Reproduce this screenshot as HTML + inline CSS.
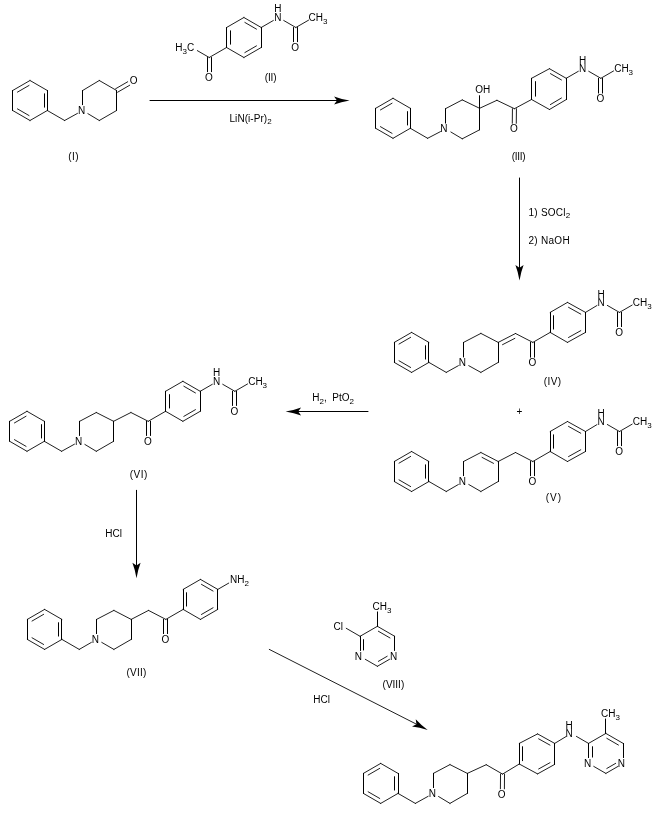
<!DOCTYPE html>
<html lang="en">
<head>
<meta charset="utf-8">
<title>Reaction scheme</title>
<style>
html,body{margin:0;padding:0;background:#fff;}
body{width:656px;height:814px;overflow:hidden;}
svg{display:block;will-change:transform;}
.d{stroke-width:0.88;}
</style>
</head>
<body>
<svg width="656" height="814" viewBox="0 0 656 814">
<g fill="none" stroke="#000" stroke-width="1" stroke-linecap="round">
<line class="d" x1="30" y1="80.5" x2="47.32" y2="90.5"/>
<line x1="47.5" y1="90.5" x2="47.5" y2="110.5"/>
<line x1="44.5" y1="93.8" x2="44.5" y2="107.2"/>
<line class="d" x1="47.32" y1="110.5" x2="30" y2="120.5"/>
<line class="d" x1="30" y1="120.5" x2="12.68" y2="110.5"/>
<line class="d" x1="29.04" y1="115.56" x2="17.44" y2="108.86"/>
<line x1="12.5" y1="110.5" x2="12.5" y2="90.5"/>
<line class="d" x1="12.68" y1="90.5" x2="30" y2="80.5"/>
<line class="d" x1="17.44" y1="92.14" x2="29.04" y2="85.44"/>
<line class="d" x1="47.32" y1="110.5" x2="64.64" y2="120.5"/>
<line class="d" x1="64.64" y1="120.5" x2="77.46" y2="113.39"/>
<line x1="82.5" y1="104.7" x2="82.5" y2="90.5"/>
<line class="d" x1="82.66" y1="90.5" x2="99.28" y2="80.5"/>
<line class="d" x1="99.28" y1="80.5" x2="116.6" y2="90.5"/>
<line x1="116.5" y1="90.5" x2="116.5" y2="110.5"/>
<line class="d" x1="116.6" y1="110.5" x2="99.28" y2="120.5"/>
<line class="d" x1="99.28" y1="120.5" x2="87.86" y2="113.63"/>
<line class="d" x1="117.6" y1="92.23" x2="129.72" y2="85.23"/>
<line class="d" x1="115.6" y1="88.77" x2="127.72" y2="81.77"/>
<line class="d" x1="243.9" y1="17.5" x2="261.22" y2="27.5"/>
<line class="d" x1="244.86" y1="22.44" x2="256.46" y2="29.14"/>
<line x1="261.5" y1="27.5" x2="261.5" y2="47.5"/>
<line class="d" x1="261.22" y1="47.5" x2="243.9" y2="57.5"/>
<line class="d" x1="256.46" y1="45.86" x2="244.86" y2="52.56"/>
<line class="d" x1="243.9" y1="57.5" x2="226.58" y2="47.5"/>
<line x1="226.5" y1="47.5" x2="226.5" y2="27.5"/>
<line x1="230.5" y1="44.2" x2="230.5" y2="30.8"/>
<line class="d" x1="226.58" y1="27.5" x2="243.9" y2="17.5"/>
<line class="d" x1="226.58" y1="47.5" x2="209.26" y2="57.5"/>
<line class="d" x1="209.26" y1="57.5" x2="197.34" y2="50.62"/>
<line x1="207.5" y1="57.5" x2="207.5" y2="71.7"/>
<line x1="211.5" y1="57.5" x2="211.5" y2="71.7"/>
<line class="d" x1="261.22" y1="27.5" x2="273.34" y2="20.5"/>
<line class="d" x1="283.74" y1="20.5" x2="295.86" y2="27.5"/>
<line class="d" x1="295.86" y1="27.5" x2="308.58" y2="20.16"/>
<line x1="293.5" y1="27.5" x2="293.5" y2="41.7"/>
<line x1="297.5" y1="27.5" x2="297.5" y2="41.7"/>
<line class="d" x1="393" y1="98.3" x2="410.32" y2="108.3"/>
<line x1="410.5" y1="108.3" x2="410.5" y2="128.3"/>
<line x1="407.5" y1="111.6" x2="407.5" y2="125"/>
<line class="d" x1="410.32" y1="128.3" x2="393" y2="138.3"/>
<line class="d" x1="393" y1="138.3" x2="375.68" y2="128.3"/>
<line class="d" x1="392.04" y1="133.36" x2="380.44" y2="126.66"/>
<line x1="375.5" y1="128.3" x2="375.5" y2="108.3"/>
<line class="d" x1="375.68" y1="108.3" x2="393" y2="98.3"/>
<line class="d" x1="380.44" y1="109.94" x2="392.04" y2="103.24"/>
<line class="d" x1="410.32" y1="128.3" x2="427.64" y2="138.3"/>
<line class="d" x1="427.64" y1="138.3" x2="440.46" y2="131.61"/>
<line x1="445.5" y1="123.1" x2="445.5" y2="108.6"/>
<line class="d" x1="445.66" y1="108.6" x2="462.28" y2="99.9"/>
<line class="d" x1="462.28" y1="99.9" x2="479.6" y2="108.3"/>
<line x1="479.5" y1="108.3" x2="479.5" y2="129.8"/>
<line class="d" x1="479.6" y1="129.8" x2="462.28" y2="138.8"/>
<line class="d" x1="462.28" y1="138.8" x2="450.86" y2="132"/>
<line x1="479.5" y1="108.3" x2="479.5" y2="95.7"/>
<line class="d" x1="479.6" y1="108.3" x2="496.92" y2="100.3"/>
<line class="d" x1="496.92" y1="100.3" x2="514.44" y2="108.7"/>
<line class="d" x1="514.44" y1="108.7" x2="531.56" y2="99.5"/>
<line class="d" x1="512.44" y1="108.68" x2="512.3" y2="123.28"/>
<line class="d" x1="516.44" y1="108.72" x2="516.3" y2="123.32"/>
<line class="d" x1="549.48" y1="68.7" x2="566.2" y2="78.3"/>
<line class="d" x1="550.45" y1="73.64" x2="561.45" y2="79.95"/>
<line x1="566.5" y1="78.3" x2="566.5" y2="99.6"/>
<line class="d" x1="566.2" y1="99.6" x2="549.48" y2="109.5"/>
<line class="d" x1="561.43" y1="98.01" x2="550.39" y2="104.55"/>
<line class="d" x1="549.48" y1="109.5" x2="531.56" y2="99.5"/>
<line x1="531.5" y1="99.5" x2="531.5" y2="78.3"/>
<line x1="535.5" y1="96.2" x2="535.5" y2="81.6"/>
<line class="d" x1="531.56" y1="78.3" x2="549.48" y2="68.7"/>
<line class="d" x1="566.2" y1="78.3" x2="578.33" y2="71.3"/>
<line class="d" x1="588.73" y1="71.3" x2="600.85" y2="78.3"/>
<line class="d" x1="600.85" y1="78.3" x2="613.57" y2="70.96"/>
<line x1="598.5" y1="78.3" x2="598.5" y2="93.1"/>
<line x1="602.5" y1="78.3" x2="602.5" y2="93.1"/>
<line class="d" x1="411.6" y1="332.4" x2="428.92" y2="342.4"/>
<line x1="428.5" y1="342.4" x2="428.5" y2="362.4"/>
<line x1="425.5" y1="345.7" x2="425.5" y2="359.1"/>
<line class="d" x1="428.92" y1="362.4" x2="411.6" y2="372.4"/>
<line class="d" x1="411.6" y1="372.4" x2="394.28" y2="362.4"/>
<line class="d" x1="410.64" y1="367.46" x2="399.04" y2="360.76"/>
<line x1="394.5" y1="362.4" x2="394.5" y2="342.4"/>
<line class="d" x1="394.28" y1="342.4" x2="411.6" y2="332.4"/>
<line class="d" x1="399.04" y1="344.04" x2="410.64" y2="337.34"/>
<line class="d" x1="428.92" y1="362.4" x2="446.24" y2="372.4"/>
<line class="d" x1="446.24" y1="372.4" x2="458.36" y2="365.68"/>
<line x1="463.5" y1="357" x2="463.5" y2="342.4"/>
<line class="d" x1="463.56" y1="342.4" x2="480.88" y2="333.4"/>
<line class="d" x1="480.88" y1="333.4" x2="498.2" y2="342.4"/>
<line x1="498.5" y1="342.4" x2="498.5" y2="362.4"/>
<line class="d" x1="498.2" y1="362.4" x2="480.88" y2="372.4"/>
<line class="d" x1="480.88" y1="372.4" x2="468.76" y2="365.68"/>
<line class="d" x1="498.2" y1="342.4" x2="515.52" y2="333.5"/>
<line class="d" x1="502.52" y1="344.68" x2="514.86" y2="338.34"/>
<line class="d" x1="515.52" y1="333.5" x2="532.84" y2="342.4"/>
<line class="d" x1="532.84" y1="342.4" x2="550.16" y2="332.4"/>
<line x1="530.5" y1="342.4" x2="530.5" y2="357.2"/>
<line x1="534.5" y1="342.4" x2="534.5" y2="357.2"/>
<line class="d" x1="567.48" y1="302.4" x2="585.51" y2="312.4"/>
<line class="d" x1="568.53" y1="307.32" x2="580.78" y2="314.12"/>
<line x1="585.5" y1="312.4" x2="585.5" y2="332.4"/>
<line class="d" x1="585.51" y1="332.4" x2="567.48" y2="342.4"/>
<line class="d" x1="580.78" y1="330.68" x2="568.53" y2="337.48"/>
<line class="d" x1="567.48" y1="342.4" x2="550.16" y2="332.4"/>
<line x1="550.5" y1="332.4" x2="550.5" y2="312.4"/>
<line x1="553.5" y1="329.1" x2="553.5" y2="315.7"/>
<line class="d" x1="550.16" y1="312.4" x2="567.48" y2="302.4"/>
<line class="d" x1="585.51" y1="312.4" x2="596.93" y2="305.53"/>
<line class="d" x1="607.33" y1="305.4" x2="619.45" y2="312.4"/>
<line class="d" x1="619.45" y1="312.4" x2="632.17" y2="305.06"/>
<line x1="617.5" y1="312.4" x2="617.5" y2="326.6"/>
<line x1="621.5" y1="312.4" x2="621.5" y2="326.6"/>
<line class="d" x1="411.6" y1="451.5" x2="428.92" y2="461.5"/>
<line x1="428.5" y1="461.5" x2="428.5" y2="481.5"/>
<line x1="425.5" y1="464.8" x2="425.5" y2="478.2"/>
<line class="d" x1="428.92" y1="481.5" x2="411.6" y2="491.5"/>
<line class="d" x1="411.6" y1="491.5" x2="394.28" y2="481.5"/>
<line class="d" x1="410.64" y1="486.56" x2="399.04" y2="479.86"/>
<line x1="394.5" y1="481.5" x2="394.5" y2="461.5"/>
<line class="d" x1="394.28" y1="461.5" x2="411.6" y2="451.5"/>
<line class="d" x1="399.04" y1="463.14" x2="410.64" y2="456.44"/>
<line class="d" x1="428.92" y1="481.5" x2="446.24" y2="491.5"/>
<line class="d" x1="446.24" y1="491.5" x2="458.36" y2="484.5"/>
<line x1="463.5" y1="475.7" x2="463.5" y2="461.5"/>
<line class="d" x1="463.56" y1="461.5" x2="480.88" y2="452.5"/>
<line class="d" x1="480.88" y1="452.5" x2="498.2" y2="461.5"/>
<line class="d" x1="482.06" y1="457.39" x2="493.52" y2="463.35"/>
<line x1="498.5" y1="461.5" x2="498.5" y2="481.5"/>
<line class="d" x1="498.2" y1="481.5" x2="480.88" y2="491.5"/>
<line class="d" x1="480.88" y1="491.5" x2="468.76" y2="484.5"/>
<line class="d" x1="498.2" y1="461.5" x2="515.52" y2="452.5"/>
<line class="d" x1="515.52" y1="452.5" x2="532.84" y2="461.5"/>
<line class="d" x1="532.84" y1="461.5" x2="550.16" y2="451.5"/>
<line x1="530.5" y1="461.5" x2="530.5" y2="475.7"/>
<line x1="534.5" y1="461.5" x2="534.5" y2="475.7"/>
<line class="d" x1="567.48" y1="421.5" x2="585.51" y2="431.5"/>
<line class="d" x1="568.53" y1="426.42" x2="580.78" y2="433.22"/>
<line x1="585.5" y1="431.5" x2="585.5" y2="451.5"/>
<line class="d" x1="585.51" y1="451.5" x2="567.48" y2="461.5"/>
<line class="d" x1="580.78" y1="449.78" x2="568.53" y2="456.58"/>
<line class="d" x1="567.48" y1="461.5" x2="550.16" y2="451.5"/>
<line x1="550.5" y1="451.5" x2="550.5" y2="431.5"/>
<line x1="553.5" y1="448.2" x2="553.5" y2="434.8"/>
<line class="d" x1="550.16" y1="431.5" x2="567.48" y2="421.5"/>
<line class="d" x1="585.51" y1="431.5" x2="596.93" y2="424.63"/>
<line class="d" x1="607.33" y1="424.5" x2="619.45" y2="431.5"/>
<line class="d" x1="619.45" y1="431.5" x2="632.17" y2="424.16"/>
<line x1="617.5" y1="431.5" x2="617.5" y2="445.7"/>
<line x1="621.5" y1="431.5" x2="621.5" y2="445.7"/>
<line class="d" x1="27" y1="411.3" x2="44.32" y2="421.3"/>
<line x1="44.5" y1="421.3" x2="44.5" y2="441.3"/>
<line x1="41.5" y1="424.6" x2="41.5" y2="438"/>
<line class="d" x1="44.32" y1="441.3" x2="27" y2="451.3"/>
<line class="d" x1="27" y1="451.3" x2="9.68" y2="441.3"/>
<line class="d" x1="26.04" y1="446.36" x2="14.44" y2="439.66"/>
<line x1="9.5" y1="441.3" x2="9.5" y2="421.3"/>
<line class="d" x1="9.68" y1="421.3" x2="27" y2="411.3"/>
<line class="d" x1="14.44" y1="422.94" x2="26.04" y2="416.24"/>
<line class="d" x1="44.32" y1="441.3" x2="61.64" y2="451.3"/>
<line class="d" x1="61.64" y1="451.3" x2="74.46" y2="444.19"/>
<line x1="79.5" y1="435.5" x2="79.5" y2="421.3"/>
<line class="d" x1="79.66" y1="421.3" x2="96.28" y2="412.5"/>
<line class="d" x1="96.28" y1="412.5" x2="113.6" y2="421.3"/>
<line x1="113.5" y1="421.3" x2="113.5" y2="441.3"/>
<line class="d" x1="113.6" y1="441.3" x2="96.28" y2="451.3"/>
<line class="d" x1="96.28" y1="451.3" x2="84.86" y2="444.43"/>
<line class="d" x1="113.6" y1="421.3" x2="130.92" y2="412.5"/>
<line class="d" x1="130.92" y1="412.5" x2="148.24" y2="421.3"/>
<line class="d" x1="148.24" y1="421.3" x2="165.56" y2="411.3"/>
<line x1="146.5" y1="421.3" x2="146.5" y2="435.5"/>
<line x1="150.5" y1="421.3" x2="150.5" y2="435.5"/>
<line class="d" x1="182.88" y1="381.3" x2="200.2" y2="391.3"/>
<line class="d" x1="183.84" y1="386.24" x2="195.45" y2="392.94"/>
<line x1="200.5" y1="391.3" x2="200.5" y2="411.3"/>
<line class="d" x1="200.2" y1="411.3" x2="182.88" y2="421.3"/>
<line class="d" x1="195.45" y1="409.66" x2="183.84" y2="416.36"/>
<line class="d" x1="182.88" y1="421.3" x2="165.56" y2="411.3"/>
<line x1="165.5" y1="411.3" x2="165.5" y2="391.3"/>
<line x1="169.5" y1="408" x2="169.5" y2="394.6"/>
<line class="d" x1="165.56" y1="391.3" x2="182.88" y2="381.3"/>
<line class="d" x1="200.2" y1="391.3" x2="212.33" y2="384.3"/>
<line class="d" x1="222.73" y1="384.3" x2="234.85" y2="391.3"/>
<line class="d" x1="234.85" y1="391.3" x2="247.57" y2="383.96"/>
<line x1="232.5" y1="391.3" x2="232.5" y2="405.5"/>
<line x1="236.5" y1="391.3" x2="236.5" y2="405.5"/>
<line class="d" x1="44.6" y1="609.4" x2="61.92" y2="619.4"/>
<line x1="61.5" y1="619.4" x2="61.5" y2="639.4"/>
<line x1="58.5" y1="622.7" x2="58.5" y2="636.1"/>
<line class="d" x1="61.92" y1="639.4" x2="44.6" y2="649.4"/>
<line class="d" x1="44.6" y1="649.4" x2="27.28" y2="639.4"/>
<line class="d" x1="43.64" y1="644.46" x2="32.04" y2="637.76"/>
<line x1="27.5" y1="639.4" x2="27.5" y2="619.4"/>
<line class="d" x1="27.28" y1="619.4" x2="44.6" y2="609.4"/>
<line class="d" x1="32.04" y1="621.04" x2="43.64" y2="614.34"/>
<line class="d" x1="61.92" y1="639.4" x2="79.24" y2="649.4"/>
<line class="d" x1="79.24" y1="649.4" x2="91.36" y2="642.4"/>
<line x1="96.5" y1="633.6" x2="96.5" y2="619.4"/>
<line class="d" x1="96.56" y1="619.4" x2="113.88" y2="610.4"/>
<line class="d" x1="113.88" y1="610.4" x2="131.2" y2="619.4"/>
<line x1="131.5" y1="619.4" x2="131.5" y2="639.4"/>
<line class="d" x1="131.2" y1="639.4" x2="113.88" y2="649.4"/>
<line class="d" x1="113.88" y1="649.4" x2="101.76" y2="642.4"/>
<line class="d" x1="131.2" y1="619.4" x2="148.52" y2="610.4"/>
<line class="d" x1="148.52" y1="610.4" x2="165.84" y2="619.4"/>
<line class="d" x1="165.84" y1="619.4" x2="183.16" y2="609.4"/>
<line x1="163.5" y1="619.4" x2="163.5" y2="633.6"/>
<line x1="167.5" y1="619.4" x2="167.5" y2="633.6"/>
<line class="d" x1="200.48" y1="579.4" x2="217.8" y2="589.4"/>
<line class="d" x1="201.44" y1="584.34" x2="213.05" y2="591.04"/>
<line x1="217.5" y1="589.4" x2="217.5" y2="609.4"/>
<line class="d" x1="217.8" y1="609.4" x2="200.48" y2="619.4"/>
<line class="d" x1="213.05" y1="607.76" x2="201.44" y2="614.46"/>
<line class="d" x1="200.48" y1="619.4" x2="183.16" y2="609.4"/>
<line x1="183.5" y1="609.4" x2="183.5" y2="589.4"/>
<line x1="186.5" y1="606.1" x2="186.5" y2="592.7"/>
<line class="d" x1="183.16" y1="589.4" x2="200.48" y2="579.4"/>
<line class="d" x1="217.8" y1="589.4" x2="228.73" y2="583.1"/>
<line class="d" x1="377.4" y1="626.3" x2="394.72" y2="636.3"/>
<line class="d" x1="378.36" y1="631.24" x2="389.96" y2="637.94"/>
<line x1="394.5" y1="636.3" x2="394.5" y2="650.5"/>
<line class="d" x1="389.52" y1="659.3" x2="377.4" y2="666.3"/>
<line class="d" x1="387.19" y1="656.26" x2="378.36" y2="661.36"/>
<line class="d" x1="377.4" y1="666.3" x2="365.28" y2="659.3"/>
<line x1="360.5" y1="650.5" x2="360.5" y2="636.3"/>
<line x1="363.5" y1="650" x2="363.5" y2="639.6"/>
<line class="d" x1="360.08" y1="636.3" x2="377.4" y2="626.3"/>
<line x1="377.5" y1="626.3" x2="377.5" y2="611.9"/>
<line class="d" x1="360.08" y1="636.3" x2="346.26" y2="628.32"/>
<line class="d" x1="380.7" y1="763.4" x2="398.02" y2="773.4"/>
<line x1="398.5" y1="773.4" x2="398.5" y2="793.4"/>
<line x1="394.5" y1="776.7" x2="394.5" y2="790.1"/>
<line class="d" x1="398.02" y1="793.4" x2="380.7" y2="803.4"/>
<line class="d" x1="380.7" y1="803.4" x2="363.38" y2="793.4"/>
<line class="d" x1="379.74" y1="798.46" x2="368.14" y2="791.76"/>
<line x1="363.5" y1="793.4" x2="363.5" y2="773.4"/>
<line class="d" x1="363.38" y1="773.4" x2="380.7" y2="763.4"/>
<line class="d" x1="368.14" y1="775.04" x2="379.74" y2="768.34"/>
<line class="d" x1="398.02" y1="793.4" x2="415.34" y2="803.4"/>
<line class="d" x1="415.34" y1="803.4" x2="428.16" y2="796.29"/>
<line x1="433.5" y1="787.6" x2="433.5" y2="773.4"/>
<line class="d" x1="433.36" y1="773.4" x2="449.98" y2="764.6"/>
<line class="d" x1="449.98" y1="764.6" x2="467.3" y2="773.4"/>
<line x1="467.5" y1="773.4" x2="467.5" y2="793.4"/>
<line class="d" x1="467.3" y1="793.4" x2="449.98" y2="803.4"/>
<line class="d" x1="449.98" y1="803.4" x2="438.56" y2="796.53"/>
<line class="d" x1="467.3" y1="773.4" x2="486.22" y2="764.7"/>
<line class="d" x1="486.22" y1="764.7" x2="502.54" y2="774.1"/>
<line class="d" x1="502.54" y1="774.1" x2="519.26" y2="764"/>
<line class="d" x1="500.54" y1="774.08" x2="500.4" y2="788.78"/>
<line class="d" x1="504.54" y1="774.12" x2="504.4" y2="788.82"/>
<line class="d" x1="537.58" y1="733.9" x2="554.7" y2="743.4"/>
<line class="d" x1="538.63" y1="738.82" x2="549.98" y2="745.12"/>
<line x1="554.5" y1="743.4" x2="554.5" y2="764.4"/>
<line class="d" x1="554.7" y1="764.4" x2="537.58" y2="773.9"/>
<line class="d" x1="549.98" y1="762.68" x2="538.63" y2="768.98"/>
<line class="d" x1="537.58" y1="773.9" x2="519.26" y2="764"/>
<line x1="519.5" y1="764" x2="519.5" y2="743.4"/>
<line x1="522.5" y1="760.7" x2="522.5" y2="746.7"/>
<line class="d" x1="519.26" y1="743.4" x2="537.58" y2="733.9"/>
<line class="d" x1="554.7" y1="743.4" x2="566.03" y2="736.55"/>
<line class="d" x1="576.43" y1="736.4" x2="588.55" y2="743.4"/>
<line class="d" x1="605.87" y1="733.4" x2="623.19" y2="743.4"/>
<line class="d" x1="606.82" y1="738.34" x2="618.43" y2="745.04"/>
<line x1="623.5" y1="743.4" x2="623.5" y2="757.6"/>
<line class="d" x1="617.99" y1="766.4" x2="605.87" y2="773.4"/>
<line class="d" x1="615.65" y1="763.36" x2="606.82" y2="768.46"/>
<line class="d" x1="605.87" y1="773.4" x2="593.75" y2="766.4"/>
<line x1="588.5" y1="757.6" x2="588.5" y2="743.4"/>
<line x1="592.5" y1="757.1" x2="592.5" y2="746.7"/>
<line class="d" x1="588.55" y1="743.4" x2="605.87" y2="733.4"/>
<line x1="605.5" y1="733.4" x2="605.5" y2="719"/>
<line x1="150" y1="100.5" x2="337" y2="100.5"/>
<line x1="519.5" y1="178" x2="519.5" y2="267.8"/>
<line x1="368" y1="411.5" x2="298.2" y2="411.5"/>
<line x1="136.5" y1="490.3" x2="136.5" y2="565.6"/>
<line class="d" x1="269.3" y1="649.4" x2="416.47" y2="724.19"/>
<path fill="#000" stroke="none" d="M349.6,100.5 Q341.08,101.9 334.1,104.6 L337,100.5 L334.1,96.4 Q341.08,99.1 349.6,100.5Z"/>
<path fill="#000" stroke="none" d="M519.5,280.4 Q518.1,271.88 515.4,264.9 L519.5,267.8 L523.6,264.9 Q520.9,271.88 519.5,280.4Z"/>
<path fill="#000" stroke="none" d="M285.6,411.5 Q294.12,410.1 301.1,407.4 L298.2,411.5 L301.1,415.6 Q294.12,412.9 285.6,411.5Z"/>
<path fill="#000" stroke="none" d="M136.5,578.2 Q135.1,569.68 132.4,562.7 L136.5,565.6 L140.6,562.7 Q137.9,569.68 136.5,578.2Z"/>
<path fill="#000" stroke="none" d="M427.7,729.9 Q419.47,727.29 412.02,726.53 L416.47,724.19 L415.74,719.22 Q420.73,724.79 427.7,729.9Z"/>
</g>
<g fill="#000" stroke="none" font-family='"Liberation Sans", Arial, Helvetica, sans-serif' font-size="10">
<text x="77.95" y="113.7">N</text>
<text x="129.63" y="83.7">O</text>
<text x="274.13" y="20.7">N</text>
<text x="274.13" y="11.7">H</text>
<text x="291.27" y="50.7">O</text>
<text x="308.57" y="20.7">CH<tspan dy="3.5" font-size="8">3</tspan></text>
<text x="204.97" y="80.7">O</text>
<text x="194.15" y="50.7" text-anchor="end">H<tspan dy="3.5" font-size="8">3</tspan><tspan dy="-3.5">C</tspan></text>
<text x="440.35" y="132.1">N</text>
<text x="475.31" y="93.3">OH</text>
<text x="509.95" y="132.3">O</text>
<text x="579.02" y="71.5">N</text>
<text x="579.02" y="63.9">H</text>
<text x="596.56" y="102.1">O</text>
<text x="614.16" y="71.5">CH<tspan dy="3.5" font-size="8">3</tspan></text>
<text x="458.85" y="366">N</text>
<text x="528.55" y="366.2">O</text>
<text x="597.62" y="305.6">N</text>
<text x="597.62" y="297.6">H</text>
<text x="615.16" y="335.6">O</text>
<text x="632.76" y="305.6">CH<tspan dy="3.5" font-size="8">3</tspan></text>
<text x="458.85" y="484.7">N</text>
<text x="528.55" y="484.7">O</text>
<text x="597.62" y="424.7">N</text>
<text x="597.62" y="416.7">H</text>
<text x="615.16" y="454.7">O</text>
<text x="632.76" y="424.7">CH<tspan dy="3.5" font-size="8">3</tspan></text>
<text x="74.95" y="444.5">N</text>
<text x="143.95" y="444.5">O</text>
<text x="213.02" y="384.5">N</text>
<text x="213.02" y="375.9">H</text>
<text x="230.56" y="414.5">O</text>
<text x="248.16" y="384.5">CH<tspan dy="3.5" font-size="8">3</tspan></text>
<text x="91.85" y="642.6">N</text>
<text x="161.55" y="642.6">O</text>
<text x="230.12" y="582.6">NH<tspan dy="3.5" font-size="8">2</tspan></text>
<text x="389.91" y="659.5">N</text>
<text x="354.77" y="659.5">N</text>
<text x="372.49" y="609.5">CH<tspan dy="3.5" font-size="8">3</tspan></text>
<text x="342.87" y="629.5" text-anchor="end">Cl</text>
<text x="428.65" y="796.6">N</text>
<text x="497.65" y="797.8">O</text>
<text x="565.62" y="736.6">N</text>
<text x="565.62" y="729">H</text>
<text x="617.68" y="766.6">N</text>
<text x="583.94" y="766.6">N</text>
<text x="600.96" y="716.6">CH<tspan dy="3.5" font-size="8">3</tspan></text>
<text x="73.75" y="159.8" letter-spacing="0.5" text-anchor="middle">(I)</text>
<text x="270.6" y="80.7" letter-spacing="-0.15" text-anchor="middle">(II)</text>
<text x="229.5" y="122.1" letter-spacing="0.05">LiN(i-Pr)<tspan dy="2" font-size="8">2</tspan></text>
<text x="518.5" y="160.1" letter-spacing="-0.3" text-anchor="middle">(III)</text>
<text x="528.5" y="215.8" letter-spacing="0.25">1) SOCl<tspan dy="2" font-size="8">2</tspan></text>
<text x="528.5" y="243.8" letter-spacing="0.28">2) NaOH</text>
<text x="552.6" y="385.3" letter-spacing="0.45" text-anchor="middle">(IV)</text>
<text x="519.5" y="415" text-anchor="middle">+</text>
<text x="554" y="501.3" letter-spacing="1.1" text-anchor="middle">(V)</text>
<text x="312.3" y="400.8">H<tspan dy="2.8" font-size="8">2</tspan><tspan dy="-2.8">,&#160; PtO</tspan><tspan dy="2.8" font-size="8">2</tspan></text>
<text x="138.75" y="477.8" letter-spacing="0.5" text-anchor="middle">(VI)</text>
<text x="105.3" y="537.3">HCl</text>
<text x="136.6" y="676" letter-spacing="0.25" text-anchor="middle">(VII)</text>
<text x="393.4" y="687.7" text-anchor="middle">(VIII)</text>
<text x="313.2" y="702.8">HCl</text>
</g>
</svg>
</body>
</html>
